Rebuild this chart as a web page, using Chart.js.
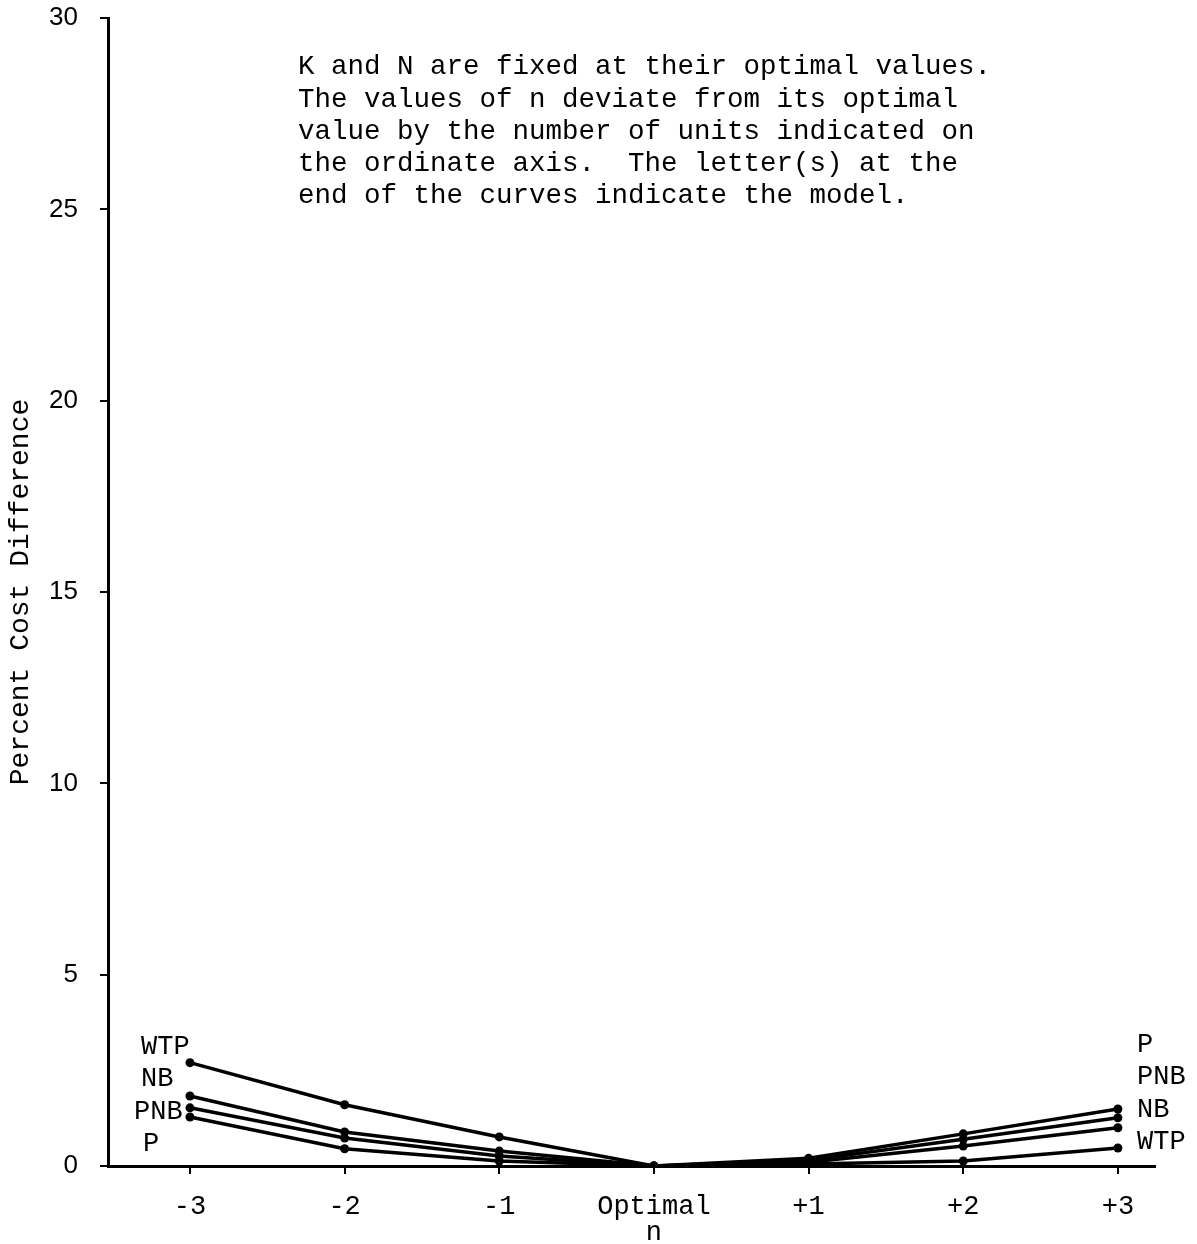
<!DOCTYPE html>
<html>
<head>
<meta charset="utf-8">
<script src="https://cdn.jsdelivr.net/npm/chart.js@4.4.1/dist/chart.umd.min.js"></script>
<style>
  body { margin: 0; background: #fff; }
  #wrap { width: 1197px; height: 1244px; }
</style>
</head>
<body>
<div id="wrap"><canvas id="costChart" width="1197" height="1244"></canvas></div>
<script>
// deviation of n from its optimal value
const nValues = [-3, -2, -1, 0, 1, 2, 3];
const nTickLabels = ['-3', '-2', '-1', 'Optimal', '+1', '+2', '+3'];
const yTicks = [0, 5, 10, 15, 20, 25, 30];

// percent cost difference per model
const wtpValues = [2.70, 1.60, 0.76, 0, 0.05, 0.13, 0.47];
const nbValues  = [1.83, 0.89, 0.39, 0, 0.10, 0.52, 1.00];
const pnbValues = [1.52, 0.73, 0.26, 0, 0.15, 0.70, 1.26];
const pValues   = [1.28, 0.45, 0.13, 0, 0.20, 0.84, 1.49];

const seriesNames = ['WTP', 'NB', 'PNB', 'P'];
const leftLabelOrder = ['WTP', 'NB', 'PNB', 'P'];
const rightLabelOrder = ['P', 'PNB', 'NB', 'WTP'];

const noteLines = [
    'K and N are fixed at their optimal values.',
    'The values of n deviate from its optimal',
    'value by the number of units indicated on',
    'the ordinate axis.  The letter(s) at the',
    'end of the curves indicate the model.'
];

const mono = '"Liberation Mono", "DejaVu Sans Mono", monospace';
const ink = '#000';

function toPoints(values) {
    return values.map((v, i) => ({ x: nValues[i], y: v }));
}

const seriesValues = [wtpValues, nbValues, pnbValues, pValues];

// text that sits on the plot: notes, curve names, axis name "n"
const textPlugin = {
    id: 'plotText',
    afterDraw(chart) {
        const ctx = chart.ctx;
        const xs = chart.scales.x;
        ctx.save();
        ctx.fillStyle = ink;
        ctx.textBaseline = 'middle';
        ctx.textAlign = 'left';
        ctx.font = '27.5px ' + mono;
        noteLines.forEach((line, i) => {
            ctx.fillText(line, 298, 67 + i * 32.3);
        });

        ctx.font = '27px ' + mono;
        const leftX = { WTP: 141, NB: 141, PNB: 134, P: 143 };
        leftLabelOrder.forEach((name, i) => {
            ctx.fillText(name, leftX[name], 1047 + i * 32.3);
        });
        rightLabelOrder.forEach((name, i) => {
            ctx.fillText(name, 1137, 1045 + i * 32.3);
        });

        ctx.textAlign = 'center';
        ctx.fillText('n', xs.getPixelForValue(0), 1233);
        ctx.restore();
    }
};

new Chart(document.getElementById('costChart'), {
    type: 'line',
    data: {
        datasets: seriesNames.map((name, i) => ({
            label: name,
            data: toPoints(seriesValues[i]),
            borderColor: '#000',
            backgroundColor: '#000',
            borderWidth: 3.5,
            pointRadius: 4.5,
            pointBorderWidth: 0,
            tension: 0
        }))
    },
    options: {
        responsive: false,
        animation: false,
        layout: { padding: { top: 18, right: 42, bottom: 0, left: 0 } },
        plugins: {
            legend: { display: false },
            tooltip: { enabled: false }
        },
        scales: {
            x: {
                type: 'linear',
                min: -3.53,
                max: 3.24,
                afterFit(scale) { scale.height = 78; },
                afterBuildTicks(scale) {
                    scale.ticks = nValues.map(v => ({ value: v }));
                },
                border: { display: true, color: '#000', width: 3 },
                grid: { drawOnChartArea: false, drawTicks: true, tickLength: 8, color: '#000', lineWidth: 2 },
                ticks: {
                    color: ink,
                    font: { family: mono, size: 27 },
                    padding: 17,
                    maxRotation: 0,
                    autoSkip: false,
                    callback: (value) => nTickLabels[nValues.indexOf(value)]
                }
            },
            y: {
                min: 0,
                max: 30,
                afterFit(scale) {
                    scale.width = 108;
                    scale.paddingTop = 0;
                },
                afterBuildTicks(scale) {
                    scale.ticks = yTicks.map(v => ({ value: v }));
                },
                border: { display: true, color: '#000', width: 3 },
                grid: { drawOnChartArea: false, drawTicks: true, tickLength: 8, color: '#000', lineWidth: 2 },
                title: {
                    display: true,
                    text: 'Percent Cost Difference',
                    color: ink,
                    font: { family: mono, size: 28 },
                    padding: { top: 4, bottom: 0 }
                },
                ticks: {
                    color: ink,
                    font: { family: '"Liberation Sans", Arial, sans-serif', size: 26 },
                    padding: 22
                }
            }
        }
    },
    plugins: [textPlugin]
});
</script>
</body>
</html>
